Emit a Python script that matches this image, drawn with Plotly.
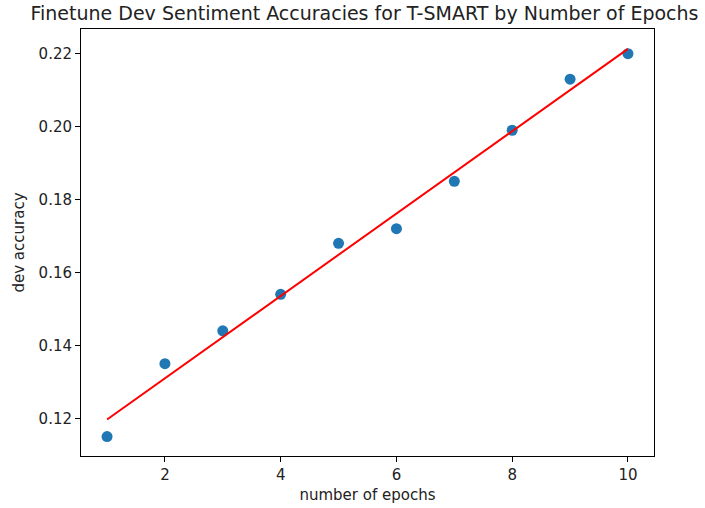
import numpy as np
import plotly.graph_objects as go

epochs = [1, 2, 3, 4, 5, 6, 7, 8, 9, 10]
dev_acc = [0.115, 0.135, 0.144, 0.154, 0.168, 0.172, 0.185, 0.199, 0.213, 0.220]
x_ticks = [2, 4, 6, 8, 10]
y_ticks = [0.12, 0.14, 0.16, 0.18, 0.20, 0.22]

slope, intercept = np.polyfit(epochs, dev_acc, 1)
fit = [slope * e + intercept for e in epochs]

font = "DejaVu Sans"
fig = go.Figure()
fig.add_trace(go.Scatter(x=epochs, y=dev_acc, mode="markers",
                         marker=dict(color="#1f77b4", size=11, line=dict(width=0)),
                         showlegend=False))
fig.add_trace(go.Scatter(x=epochs, y=fit, mode="lines",
                         line=dict(color="red", width=2), showlegend=False))

axis_common = dict(showline=True, linecolor="black", linewidth=1, mirror=True,
                   ticks="outside", ticklen=5, tickwidth=1, tickcolor="black",
                   showgrid=False, zeroline=False, automargin=False,
                   tickfont=dict(family=font, size=15, color="#222"))
fig.update_layout(
    width=705, height=508,
    margin=dict(l=81, r=51, t=29, b=52),
    plot_bgcolor="white", paper_bgcolor="white",
    title=dict(text="Finetune Dev Sentiment Accuracies for T-SMART by Number of Epochs",
               x=0.5 - 3 / 573, xref="paper", xanchor="center",
               y=1 - 13.5 / 508, yref="container", yanchor="middle",
               font=dict(family=font, size=19, color="#222")),
    xaxis=dict(range=[0.55, 10.45], tickvals=x_ticks,
               title=dict(text="number of epochs", standoff=6,
                          font=dict(family=font, size=15, color="#222")),
               **axis_common),
    yaxis=dict(range=[0.10968, 0.22676], tickvals=y_ticks, tickformat=".2f",
               title=dict(text="dev accuracy", standoff=10,
                          font=dict(family=font, size=15, color="#222")),
               **axis_common),
)
fig.write_html("out.html", config={"displayModeBar": False},
               post_script="document.body.style.margin='0';")
